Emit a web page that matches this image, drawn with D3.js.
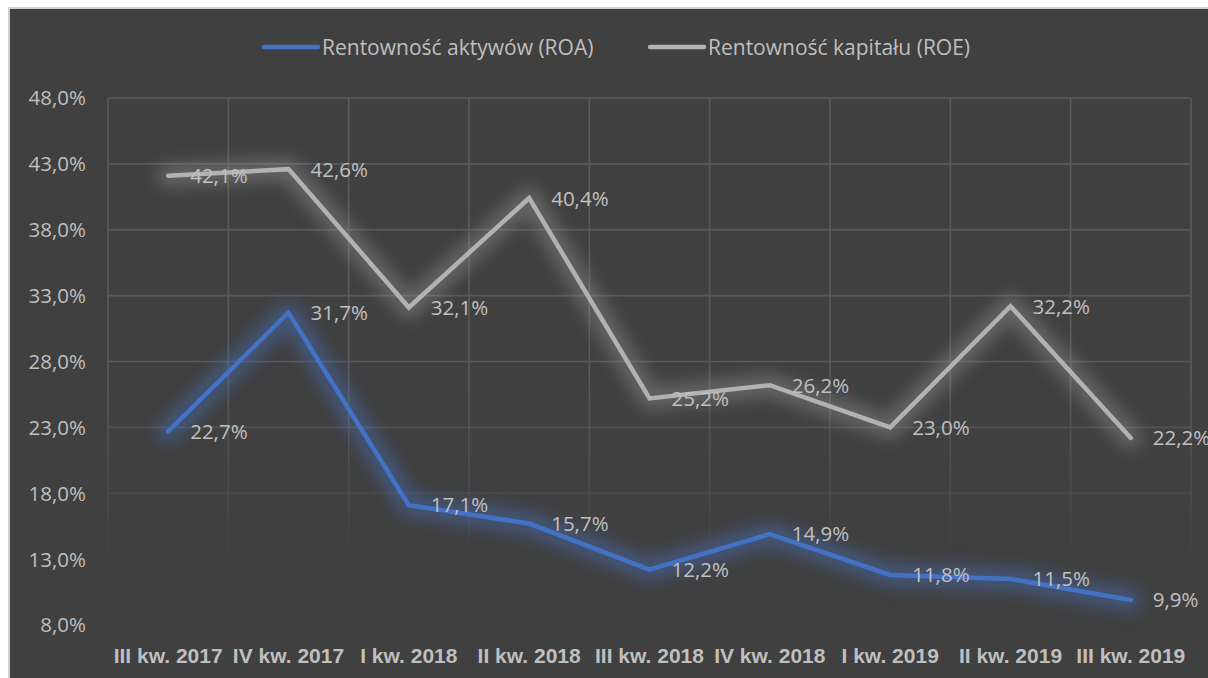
<!DOCTYPE html>
<html>
<head>
<meta charset="utf-8">
<script src="https://cdn.jsdelivr.net/npm/d3@7/dist/d3.min.js"></script>
<style>
  html, body { margin: 0; padding: 0; background: #ffffff; }
  svg { display: block; }
</style>
</head>
<body>
<svg id="chart" width="1208" height="678"></svg>
<script>
const categories = ["III kw. 2017", "IV kw. 2017", "I kw. 2018", "II kw. 2018", "III kw. 2018", "IV kw. 2018", "I kw. 2019", "II kw. 2019", "III kw. 2019"];
const roaValues = [22.7, 31.7, 17.1, 15.7, 12.2, 14.9, 11.8, 11.5, 9.9];
const roeValues = [42.1, 42.6, 32.1, 40.4, 25.2, 26.2, 23.0, 32.2, 22.2];
const yTickValues = [8, 13, 18, 23, 28, 33, 38, 43, 48];
const seriesNames = ["Rentowność aktywów (ROA)", "Rentowność kapitału (ROE)"];

const svg = d3.select("#chart");
const W = 1208, H = 678;
const plot = { left: 108, right: 1191, top: 98, bottom: 625 };

const x = d3.scaleBand().domain(categories).range([plot.left, plot.right]).paddingInner(0).paddingOuter(0);
const y = d3.scaleLinear().domain([8, 48]).range([plot.bottom, plot.top]);
const cx = c => x(c) + x.bandwidth() / 2;
const fmt = v => d3.format(".1f")(v).replace(".", ",") + "%";

const defs = svg.append("defs");
const grad = defs.append("linearGradient").attr("id", "gridFade")
  .attr("gradientUnits", "userSpaceOnUse").attr("x1", 0).attr("x2", 0).attr("y1", 380).attr("y2", 565);
grad.append("stop").attr("offset", "0").attr("stop-color", "#5a5a5a").attr("stop-opacity", 1);
grad.append("stop").attr("offset", "1").attr("stop-color", "#5a5a5a").attr("stop-opacity", 0);
defs.append("filter").attr("id", "glow").attr("x", "-20%").attr("y", "-20%").attr("width", "140%").attr("height", "140%")
  .append("feGaussianBlur").attr("stdDeviation", 8);

// background panel
svg.append("rect").attr("x", 9).attr("y", 8).attr("width", W).attr("height", H)
  .attr("fill", "#404040").attr("stroke", "#d0d0d0").attr("stroke-width", 2);

// grid
const grid = svg.append("g");
grid.selectAll("line.h").data(yTickValues).join("line")
  .attr("x1", plot.left).attr("x2", plot.right)
  .attr("y1", d => y(d)).attr("y2", d => y(d))
  .attr("stroke", "url(#gridFade)").attr("stroke-width", 1.6);
const vEdges = categories.map(c => x(c)).concat([plot.right]);
grid.selectAll("line.v").data(vEdges).join("line")
  .attr("x1", d => d).attr("x2", d => d)
  .attr("y1", plot.top).attr("y2", plot.bottom)
  .attr("stroke", "url(#gridFade)").attr("stroke-width", 1.6);

// y axis labels
svg.append("g").selectAll("text").data(yTickValues).join("text")
  .attr("x", 86).attr("y", d => y(d)).attr("dy", "0.36em")
  .attr("text-anchor", "end")
  .attr("font-family", "'Open Sans', sans-serif").attr("font-size", 20.5)
  .attr("fill", "#bfbfbf").text(d => fmt(d));

// x axis labels
svg.append("g").selectAll("text").data(categories).join("text")
  .attr("x", d => cx(d)).attr("y", 663)
  .attr("text-anchor", "middle")
  .attr("font-family", "'Liberation Sans', Arial, sans-serif").attr("font-weight", "bold").attr("font-size", 21)
  .attr("fill", "#bfbfbf").text(d => d);

const series = [
  { name: seriesNames[1], values: roeValues, color: "#b2b2b2", glow: "#a8a8a8", go: 0.35 },
  { name: seriesNames[0], values: roaValues, color: "#4472c4", glow: "#4472c4", go: 0.45 }
];
const line = d3.line().x((d, i) => cx(categories[i])).y(d => y(d));

series.forEach(s => {
  svg.append("path").datum(s.values).attr("d", line)
    .attr("fill", "none").attr("stroke", s.glow).attr("stroke-width", 22)
    .attr("stroke-opacity", s.go).attr("stroke-linejoin", "round").attr("stroke-linecap", "round")
    .attr("filter", "url(#glow)");
});
series.forEach(s => {
  svg.append("path").datum(s.values).attr("d", line)
    .attr("fill", "none").attr("stroke", s.color).attr("stroke-width", 4.5)
    .attr("stroke-linejoin", "miter").attr("stroke-linecap", "round");
});
series.forEach(s => {
  svg.append("g").selectAll("text").data(s.values).join("text")
    .attr("x", (d, i) => cx(categories[i]) + 22).attr("y", d => y(d)).attr("dy", "0.36em")
    .attr("font-family", "'Open Sans', sans-serif").attr("font-size", 20.5)
    .attr("fill", "#c0c0c0").text(d => fmt(d));
});

// legend
const legendItems = [
  { name: seriesNames[0], color: "#4472c4", x1: 264, x2: 318, tx: 322 },
  { name: seriesNames[1], color: "#b2b2b2", x1: 650, x2: 704, tx: 708 }
];
const lg = svg.append("g");
legendItems.forEach(it => {
  lg.append("line").attr("x1", it.x1).attr("x2", it.x2).attr("y1", 47).attr("y2", 47)
    .attr("stroke", it.color).attr("stroke-width", 4.5).attr("stroke-linecap", "round");
  lg.append("text").attr("x", it.tx).attr("y", 47).attr("dy", "0.36em")
    .attr("font-family", "'Open Sans', sans-serif").attr("font-size", 21)
    .attr("fill", "#bfbfbf").text(it.name);
});
</script>
</body>
</html>
